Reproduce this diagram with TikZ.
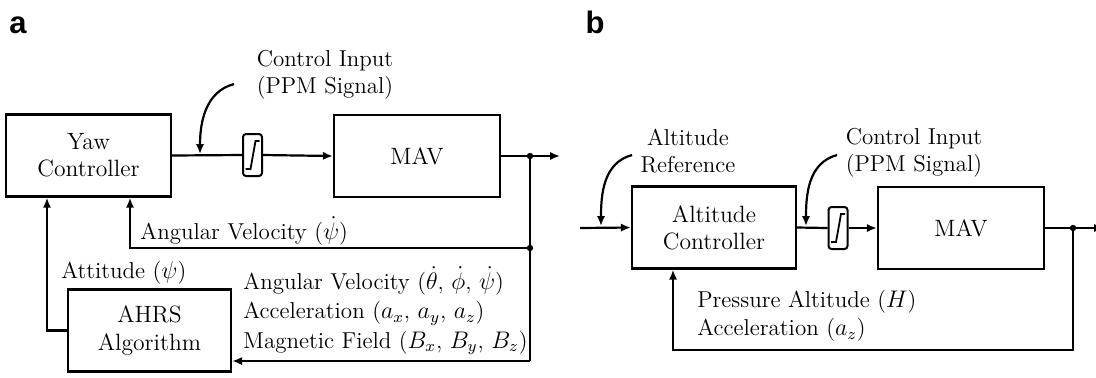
\documentclass[tikz,border=0pt]{standalone}
\usepackage{fontspec}
\newfontfamily\panelfont{Liberation Sans}
\usetikzlibrary{arrows.meta}
\begin{document}
\begin{tikzpicture}[x=0.5pt,y=-0.5pt,
  blk/.style={draw,line width=1.2pt,minimum width=82.5pt,minimum height=41pt,inner sep=0pt,font=\fontsize{11.8}{13.6}\selectfont,align=center},
  sat/.style={draw,fill=white,line width=1pt,rounded corners=1.5pt,minimum width=9.5pt,minimum height=21pt,inner sep=0pt},
  satline/.style={line width=0.9pt,line join=miter},
  wire/.style={line width=1.1pt},
  arr/.style={wire,-{Latex[length=5pt,width=4.2pt]}},
  lbl/.style={font=\fontsize{11.5}{13.5}\selectfont,inner sep=0pt},
  dot/.style={circle,fill,inner sep=0pt,minimum size=3.2pt},
  panel/.style={font=\panelfont\bfseries\fontsize{15.5}{15.5}\selectfont,inner sep=0pt}]
\useasboundingbox (0,0) rectangle (1096,377);
% ---------- panel a ----------
\node[panel] (la) at (18,25) {a};
\node[blk] (yaw) at (88.5,155.5) {Yaw\\Controller};
\node[blk,minimum width=83pt] (mava) at (417,156) {MAV};
\node[blk,minimum width=81.5pt] (ahrs) at (149.5,330.5) {AHRS\\Algorithm};
\node[sat] (swa) at (252.5,155) {};
\draw[satline,shift={(swa.center)}] (-7,14) -- (-2,14) -- (3,-14) -- (7,-14);
\node[lbl,align=center] (cia) at (325,75) {Control Input\\(PPM Signal)};
\coordinate (cas) at (234,84);
\coordinate (cae) at (200,154);
\draw[arr] (cas) to[out=195,in=90] (cae);
\draw[wire] (yaw.east) -- (swa.west);
\draw[arr] (swa.east) -- (mava.west);
\coordinate (ja) at (530,156);
\coordinate (oa) at (560,156);
\coordinate (jb1) at (530,248);
\coordinate (ca) at (530,361);
\draw[wire] (mava.east) -- (ja);
\draw[arr] (ja) -- (oa);
\draw[wire] (ja) -- (ca);
\draw[arr] (ca) -- (ahrs.east |- ca);
\coordinate (av) at (130,248);
\draw[arr] (jb1) -- (av) -- (av |- yaw.south);
\coordinate (at1) at (47,330.5);
\draw[arr] (ahrs.west) -- (at1) -- (at1 |- yaw.south);
\node[dot] (dja) at (ja) {};
\node[dot] (djb1) at (jb1) {};
\node[lbl,anchor=west] (lav) at (140,231) {Angular Velocity ($\dot{\psi}$)};
\node[lbl,anchor=west] (latt) at (61,273) {Attitude ($\psi$)};
\node[lbl,anchor=west,align=left,font=\fontsize{11.5}{14.75}\selectfont] (lmeas) at (243,311)
  {Angular Velocity ($\dot{\theta}$, $\dot{\phi}$, $\dot{\psi}$)\\Acceleration ($a_x$, $a_y$, $a_z$)\\Magnetic Field ($B_x$, $B_y$, $B_z$)};
% ---------- panel b ----------
\node[panel] (lb) at (595,22) {b};
\node[blk,minimum width=82pt] (altc) at (714,227.5) {Altitude\\Controller};
\node[blk,minimum width=83pt] (mavb) at (961,228) {MAV};
\node[sat] (swb) at (838,228) {};
\draw[satline,shift={(swb.center)}] (-7,14) -- (-2,14) -- (3,-14) -- (7,-14);
\coordinate (inb) at (580,228);
\draw[arr] (inb) -- (altc.west);
\draw[wire] (altc.east) -- (swb.west);
\draw[arr] (swb.east) -- (mavb.west);
\coordinate (jb) at (1073,228);
\coordinate (ob) at (1104,228);
\draw[wire] (mavb.east) -- (jb);
\draw[arr] (jb) -- (ob);
\coordinate (cb) at (1073,350);
\coordinate (fb) at (673,350);
\draw[arr] (jb) -- (cb) -- (fb) -- (fb |- altc.south);
\node[dot] (djb) at (jb) {};
\node[lbl,align=center] (aref) at (688,151) {Altitude\\Reference};
\node[lbl,align=center] (cib) at (914,153) {Control Input\\(PPM Signal)};
\coordinate (ars) at (632,155);
\coordinate (are) at (601,226);
\draw[arr] (ars) to[out=195,in=90] (are);
\coordinate (cbs) at (837,155);
\coordinate (cbe) at (806,226);
\draw[arr] (cbs) to[out=195,in=90] (cbe);
\node[lbl,anchor=west,align=left,font=\fontsize{11.5}{14}\selectfont] (lpa) at (697,316)
  {Pressure Altitude ($H$)\\Acceleration ($a_z$)};
\end{tikzpicture}
\end{document}
